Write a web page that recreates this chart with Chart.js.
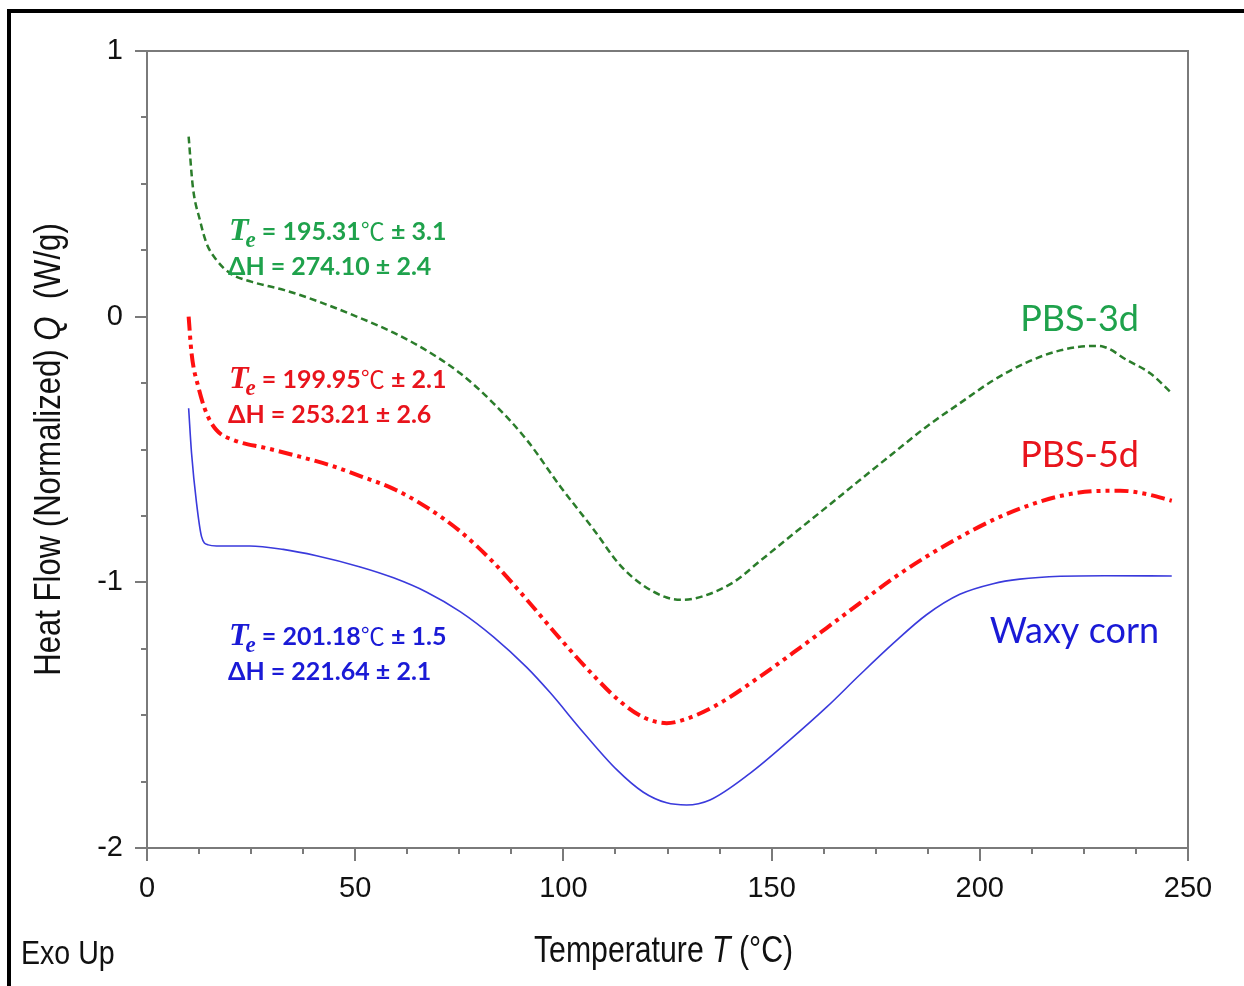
<!DOCTYPE html>
<html>
<head>
<meta charset="utf-8">
<script src="https://cdn.jsdelivr.net/npm/chart.js@4.4.1/dist/chart.umd.min.js"></script>
<style>
  html, body { margin: 0; padding: 0; background: #ffffff; }
  #wrap { width: 1244px; height: 986px; }
</style>
</head>
<body>
<div id="wrap"><canvas id="c" width="1244" height="986"></canvas></div>
<script>
// ---------------- DATA ----------------
const xTicks = [0, 50, 100, 150, 200, 250];
const yTicks = [-2, -1, 0, 1];

const pbs3dT = [10, 11, 12.7, 14.3, 16.7, 20, 25, 33, 41, 51.2, 59.2, 67.2, 75.2, 83.2, 91.2, 99.2, 107.2, 113.6, 119.2, 124.8, 128.8, 133.6, 140.8, 147.2, 155.2, 163.2, 171.2, 179.2, 187.2, 195.2, 203.2, 211.3, 219.3, 227.3, 229.7, 235.3, 240.9, 246.1];
const pbs3dQ = [0.678, 0.49, 0.364, 0.276, 0.213, 0.163, 0.132, 0.100, 0.058, -0.005, -0.060, -0.128, -0.213, -0.326, -0.464, -0.638, -0.800, -0.935, -1.012, -1.057, -1.066, -1.052, -1.000, -0.920, -0.818, -0.717, -0.615, -0.514, -0.414, -0.326, -0.240, -0.172, -0.127, -0.110, -0.113, -0.163, -0.213, -0.288];

const pbs5dT = [10, 10.7, 12.3, 14.3, 16.7, 20.7, 28.7, 36.7, 44.7, 51.2, 59.2, 67.2, 75.2, 83.2, 91.2, 99.2, 107.2, 113.6, 119.2, 124.8, 128.8, 136.8, 147.2, 155.2, 163.2, 171.2, 179.2, 187.2, 195.2, 203.2, 211.3, 219.3, 227.3, 233.7, 240.1, 246.1];
const pbs5dQ = [0.0, -0.138, -0.263, -0.364, -0.427, -0.464, -0.495, -0.527, -0.563, -0.600, -0.648, -0.718, -0.808, -0.925, -1.065, -1.212, -1.350, -1.448, -1.508, -1.530, -1.518, -1.462, -1.355, -1.265, -1.172, -1.078, -0.985, -0.903, -0.830, -0.765, -0.713, -0.675, -0.657, -0.655, -0.668, -0.693];

const waxyT = [10, 10.7, 11.9, 13.1, 14.7, 16.7, 24.7, 32.7, 40.7, 51.2, 59.2, 67.2, 75.2, 83.2, 91.2, 96.8, 104.8, 112.8, 119.2, 124.8, 129.6, 135.2, 144.8, 154.4, 163.2, 171.2, 179.2, 187.2, 195.2, 203.2, 209.6, 219.3, 230, 246.1];
const waxyQ = [-0.345, -0.514, -0.702, -0.828, -0.859, -0.863, -0.863, -0.876, -0.900, -0.942, -0.983, -1.037, -1.110, -1.205, -1.320, -1.415, -1.565, -1.705, -1.790, -1.830, -1.838, -1.819, -1.719, -1.593, -1.470, -1.348, -1.230, -1.122, -1.045, -1.005, -0.988, -0.977, -0.975, -0.976];

const seriesNames = ['PBS-3d', 'PBS-5d', 'Waxy corn'];
const teValues = ['195.31', '199.95', '201.18'];
const teErrors = ['3.1', '2.1', '1.5'];
const dhValues = ['274.10', '253.21', '221.64'];
const dhErrors = ['2.4', '2.6', '2.1'];

// ---------------- STYLE ----------------
const lineColors = ['#2b7d2b', '#ff1010', '#3a3adc'];
const textColors = ['#1fa24c', '#e8141c', '#1a1ad6'];
// annotation anchors (data coordinates of the text baseline)
const annoPos = [ {x: 19.45, y1: 0.289, y2: 0.157}, {x: 19.45, y1: -0.268, y2: -0.400}, {x: 19.45, y1: -1.236, y2: -1.368} ];
const namePos = [ {x: 209.7, y: -0.054}, {x: 209.7, y: -0.565}, {x: 202.4, y: -1.228} ];

function pts(xs, ys) { return xs.map((x, i) => ({x: x, y: ys[i]})); }

const GRAY = '#7a7a7a';

const decor = {
  id: 'decor',
  afterDraw(chart) {
    const ctx = chart.ctx;
    const a = chart.chartArea;
    const xs = chart.scales.x, ys = chart.scales.y;
    ctx.save();
    // plot box
    ctx.strokeStyle = GRAY;
    ctx.lineWidth = 2;
    ctx.strokeRect(a.left, a.top, a.right - a.left, a.bottom - a.top);
    // ticks
    ctx.beginPath();
    for (let v = xs.min; v <= xs.max + 1e-9; v += 12.5) {
      const px = Math.round(xs.getPixelForValue(v));
      const major = Math.abs(v % 50) < 1e-9;
      ctx.moveTo(px, a.bottom);
      ctx.lineTo(px, a.bottom + (major ? 13 : 6));
    }
    for (let v = ys.min; v <= ys.max + 1e-9; v += 0.25) {
      const py = Math.round(ys.getPixelForValue(v));
      const major = Math.abs(v - Math.round(v)) < 1e-9;
      ctx.moveTo(a.left, py);
      ctx.lineTo(a.left - (major ? 12 : 6), py);
    }
    ctx.stroke();

    // annotations
    ctx.textBaseline = 'alphabetic';
    ctx.textAlign = 'left';
    for (let i = 0; i < 3; i++) {
      const p = annoPos[i];
      const x0 = xs.getPixelForValue(p.x);
      const b1 = ys.getPixelForValue(p.y1);
      const b2 = ys.getPixelForValue(p.y2);
      ctx.fillStyle = textColors[i];
      let x = x0;
      ctx.font = 'italic bold 32px "Liberation Serif", "DejaVu Serif", serif';
      ctx.fillText('T', x + 1, b1);
      x += ctx.measureText('T').width;
      ctx.font = 'italic bold 23px "Liberation Serif", "DejaVu Serif", serif';
      ctx.fillText('e', x - 2, b1 + 7);
      x += ctx.measureText('e').width - 2;
      ctx.font = 'bold 25px Lato, "Noto Sans", sans-serif';
      const s1 = ' = ' + teValues[i];
      ctx.fillText(s1, x, b1);
      x += ctx.measureText(s1).width;
      ctx.font = '24px "Noto Sans CJK SC", "DejaVu Sans", sans-serif';
      ctx.fillText('\u2103', x, b1);
      x += ctx.measureText('\u2103').width;
      ctx.font = 'bold 25px Lato, "Noto Sans", sans-serif';
      ctx.fillText(' \u00B1 ' + teErrors[i], x, b1);
      ctx.fillText('\u0394H = ' + dhValues[i] + ' \u00B1 ' + dhErrors[i], x0, b2);

      const n = namePos[i];
      ctx.font = '36px Lato, "Noto Sans", sans-serif';
      ctx.fillText(seriesNames[i], xs.getPixelForValue(n.x), ys.getPixelForValue(n.y));
    }

    // axis titles (narrow sans)
    ctx.fillStyle = '#111111';
    const narrow = 0.84;
    function measureParts(parts, size) {
      let w = 0;
      for (const [t, it] of parts) {
        ctx.font = (it ? 'italic ' : '') + size + 'px "Liberation Sans", Arial, sans-serif';
        w += ctx.measureText(t).width;
      }
      return w;
    }
    function paint(parts, size) {
      let x = 0;
      for (const [t, it] of parts) {
        ctx.font = (it ? 'italic ' : '') + size + 'px "Liberation Sans", Arial, sans-serif';
        ctx.fillText(t, x, 0);
        x += ctx.measureText(t).width;
      }
    }
    const xt = [['Temperature ', false], ['T', true], [' (\u00B0C)', false]];
    const xw = measureParts(xt, 36) * narrow;
    ctx.save();
    ctx.translate((a.left + a.right) / 2 - 4 - xw / 2, 962);
    ctx.scale(narrow, 1);
    paint(xt, 36);
    ctx.restore();

    const yt = [['Heat Flow (Normalized) ', false], ['Q', true], ['  (W/g)', false]];
    const yw = measureParts(yt, 37) * narrow;
    ctx.save();
    ctx.translate(60, (a.top + a.bottom) / 2 + yw / 2);
    ctx.rotate(-Math.PI / 2);
    ctx.scale(narrow, 1);
    paint(yt, 37);
    ctx.restore();

    ctx.save();
    ctx.translate(21, 964);
    ctx.scale(narrow, 1);
    paint([['Exo Up', false]], 34);
    ctx.restore();

    // outer frame (left and top edges)
    ctx.fillStyle = '#000000';
    ctx.fillRect(7, 9, 4, 977);
    ctx.fillRect(7, 9, 1237, 4);
    ctx.restore();
  }
};

new Chart(document.getElementById('c'), {
  type: 'scatter',
  data: {
    datasets: [
      { label: seriesNames[0], data: pts(pbs3dT, pbs3dQ), showLine: true, borderColor: lineColors[0], borderWidth: 2.5, borderDash: [7, 4], pointRadius: 0, cubicInterpolationMode: 'monotone', fill: false },
      { label: seriesNames[1], data: pts(pbs5dT, pbs5dQ), showLine: true, borderColor: lineColors[1], borderWidth: 4, borderDash: [14, 5, 4, 5, 4, 5], borderCapStyle: 'butt', pointRadius: 0, cubicInterpolationMode: 'monotone', fill: false },
      { label: seriesNames[2], data: pts(waxyT, waxyQ), showLine: true, borderColor: lineColors[2], borderWidth: 1.6, pointRadius: 0, cubicInterpolationMode: 'monotone', fill: false }
    ]
  },
  options: {
    responsive: false,
    animation: false,
    events: [],
    layout: { padding: { left: 0, top: 51, right: 56, bottom: 0 } },
    plugins: { legend: { display: false }, tooltip: { enabled: false } },
    scales: {
      x: {
        type: 'linear', min: 0, max: 250,
        afterBuildTicks: s => { s.ticks = xTicks.map(v => ({ value: v })); },
        afterFit: s => { s.height = 138; },
        grid: { display: false },
        border: { display: false },
        ticks: { padding: 16, color: '#111111', maxRotation: 0, font: { family: '"Liberation Sans", Arial, sans-serif', size: 29 } }
      },
      y: {
        type: 'linear', min: -2, max: 1,
        afterBuildTicks: s => { s.ticks = yTicks.map(v => ({ value: v })); },
        afterFit: s => { s.width = 147; },
        grid: { display: false },
        border: { display: false },
        ticks: { padding: 16, color: '#111111', font: { family: '"Liberation Sans", Arial, sans-serif', size: 29 } }
      }
    }
  },
  plugins: [decor]
});
</script>
</body>
</html>
